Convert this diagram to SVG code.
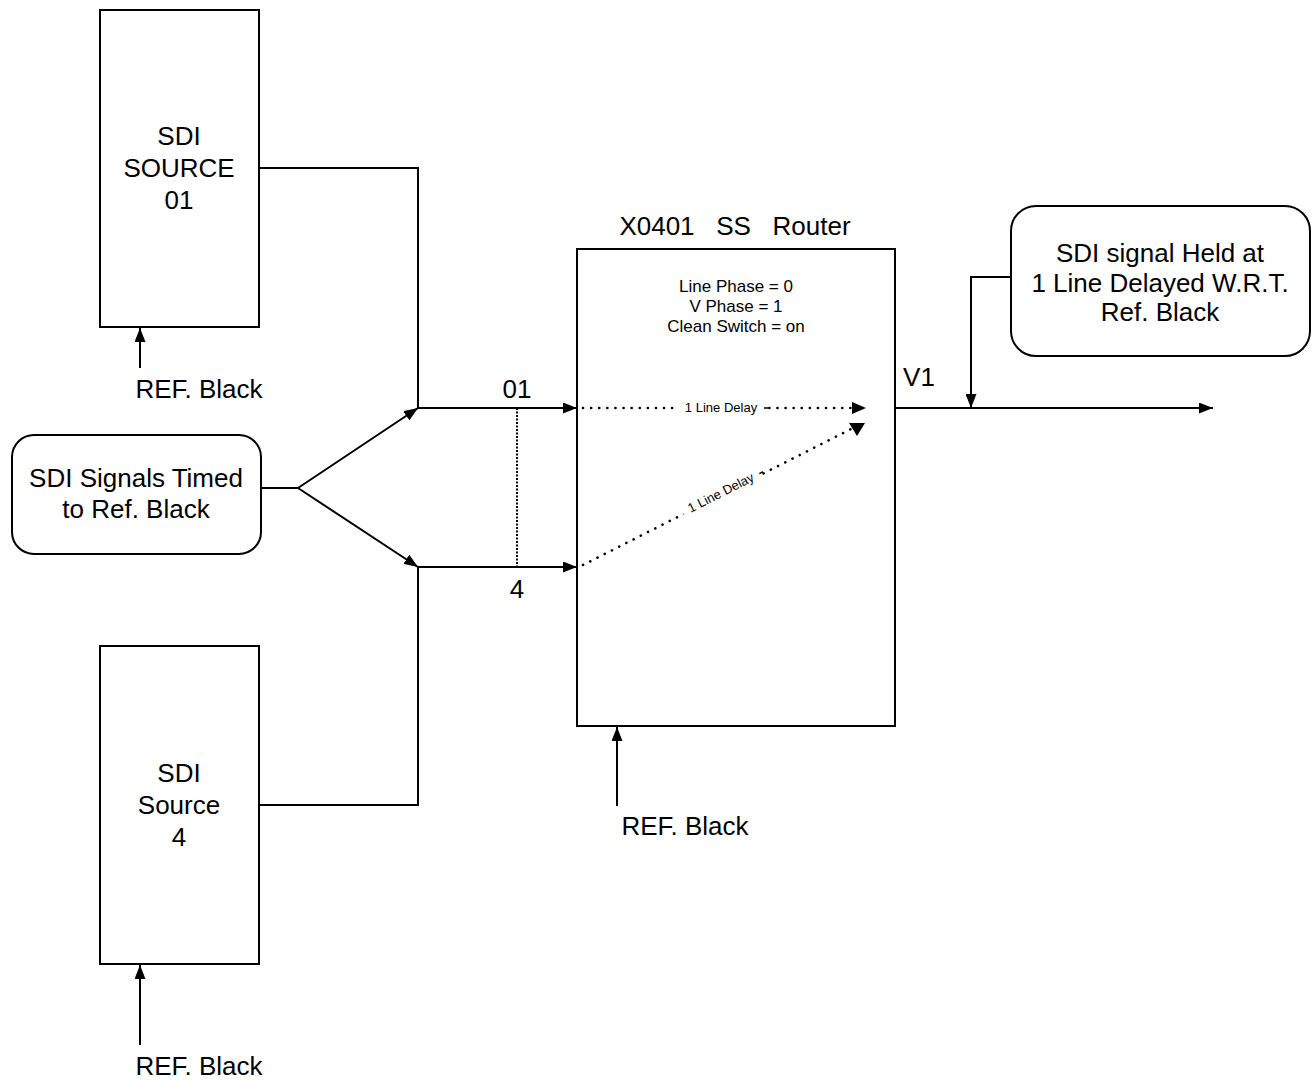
<svg xmlns="http://www.w3.org/2000/svg" width="1312" height="1081" viewBox="0 0 1312 1081">
<style>
.box{fill:#fff;stroke:#000;stroke-width:2}
.ln{fill:none;stroke:#000;stroke-width:2}
.dot{fill:none;stroke:#000;stroke-width:2.6;stroke-linecap:round;stroke-dasharray:0.1 8}
.t{font-family:"Liberation Sans",Arial,sans-serif;font-size:26px;fill:#000;text-anchor:middle}
.s{font-family:"Liberation Sans",Arial,sans-serif;font-size:17px;fill:#000;text-anchor:middle}
.xs{font-family:"Liberation Sans",Arial,sans-serif;font-size:13px;fill:#000;text-anchor:middle}
</style>
<defs>
<marker id="ah" viewBox="0 0 14 11" refX="14" refY="5.5" markerWidth="14" markerHeight="11" markerUnits="userSpaceOnUse" orient="auto">
<path d="M0,0 L14,5.5 L0,11 z" fill="#000"/>
</marker>
</defs>
<rect width="1312" height="1081" fill="#fff"/>

<g id="source01">
<rect class="box" x="100" y="10" width="159" height="317"/>
<text class="t" x="179" y="145">SDI</text>
<text class="t" x="179" y="177">SOURCE</text>
<text class="t" x="179" y="209">01</text>
</g>
<g id="ref1"><text class="t" x="199" y="398">REF. Black</text></g>

<g id="source4">
<rect class="box" x="100" y="646" width="159" height="318"/>
<text class="t" x="179" y="782">SDI</text>
<text class="t" x="179" y="814">Source</text>
<text class="t" x="179" y="846">4</text>
</g>
<g id="ref2"><text class="t" x="199" y="1075">REF. Black</text></g>

<g id="timed">
<rect class="box" x="12" y="435" width="249" height="119" rx="22" ry="22"/>
<text class="t" x="136" y="487">SDI Signals Timed</text>
<text class="t" x="136" y="518">to Ref. Black</text>
</g>

<g id="router">
<text class="t" x="735" y="235" xml:space="preserve">X0401   SS   Router</text>
<rect class="box" x="577" y="249" width="318" height="477"/>
<text class="s" x="736" y="292">Line Phase = 0</text>
<text class="s" x="736" y="312">V Phase = 1</text>
<text class="s" x="736" y="332">Clean Switch = on</text>
</g>
<g id="ref3"><text class="t" x="685" y="835">REF. Black</text></g>

<g id="held">
<rect class="box" x="1011" y="206" width="299" height="150" rx="25" ry="25"/>
<text class="t" x="1160" y="262">SDI signal Held at</text>
<text class="t" x="1160" y="292">1 Line Delayed W.R.T.</text>
<text class="t" x="1160" y="321">Ref. Black</text>
</g>

<g id="connectors">
<path class="ln" d="M259,168 H418 V408"/>
<path class="ln" d="M259,805 H418 V567"/>
<path class="ln" d="M261,488 H298"/>
<path class="ln" d="M298,488 L418,408" marker-end="url(#ah)"/>
<path class="ln" d="M298,488 L418,567" marker-end="url(#ah)"/>
<path class="ln" d="M418,408 H577" marker-end="url(#ah)"/>
<path class="ln" d="M418,567 H577" marker-end="url(#ah)"/>
<path class="ln" d="M517,408 V567" style="stroke-dasharray:2 1.5"/>
<path class="dot" d="M583,408 H852"/>
<path d="M852,402 L866,408 L852,414 z" fill="#000"/>
<path class="dot" d="M583,565 L851,429"/>
<path d="M849,423 L865,423 L857,436 z" fill="#000"/>
<rect x="678" y="399" width="86" height="18" fill="#fff"/>
<text class="xs" x="721" y="412">1 Line Delay</text>
<path class="ln" d="M764,408 H768" style="stroke-width:1.5"/>
<g transform="translate(721,493) rotate(-26.9)">
<rect x="-43" y="-10" width="86" height="18" fill="#fff"/>
<text class="xs" x="0" y="4">1 Line Delay</text>
<path d="M43,0 H47" stroke="#000" stroke-width="1.5"/>
</g>
<path class="ln" d="M895,408 H1213" marker-end="url(#ah)"/>
<path class="ln" d="M1011,277 H971 V408" marker-end="url(#ah)"/>
<path class="ln" d="M140,368 V328" marker-end="url(#ah)"/>
<path class="ln" d="M140,1045 V965" marker-end="url(#ah)"/>
<path class="ln" d="M617,806 V727" marker-end="url(#ah)"/>
<text class="t" x="517" y="398">01</text>
<text class="t" x="517" y="598">4</text>
<text class="t" x="919" y="386">V1</text>
</g>
</svg>
